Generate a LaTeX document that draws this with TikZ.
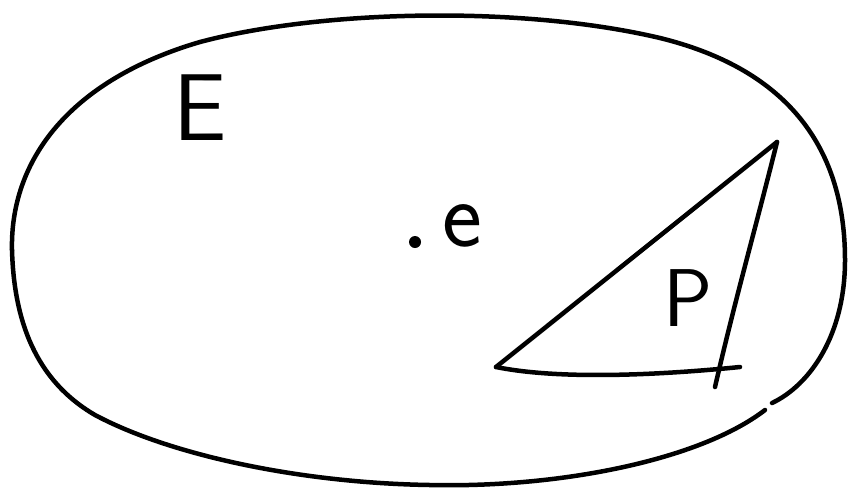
\documentclass[tikz,border=0pt]{standalone}
\usepackage{fontspec}
\begin{document}
\begin{tikzpicture}[x=1pt,y=-1pt,line width=4.5pt,line cap=round,line join=round,
  lbl/.style={inner sep=0pt,font=\sffamily\fontsize{95}{95}\selectfont}]
\useasboundingbox (0,0) rectangle (850,491);
% blob
\draw (12,250) .. controls (10,160) and (70,80) .. (200,42)
  .. controls (320,10) and (520,5) .. (660,38)
  .. controls (790,70) and (845,150) .. (845,260)
  .. controls (845,335) and (810,385) .. (772,403);
\draw (765,410) .. controls (700,460) and (560,488) .. (430,485)
  .. controls (300,483) and (170,455) .. (95,415)
  .. controls (35,380) and (14,320) .. (12,250);
% labels
\node[lbl] (E) at (200,108) {E};
\fill (415,242) circle (6pt) coordinate (dot);
\node[lbl] (e) at (462,226) {e};
\node[lbl,font=\sffamily\fontsize{82}{82}\selectfont] (P) at (688,298) {P};
% triangle
\coordinate (A) at (496,367);
\coordinate (B) at (777,142);
\coordinate (C) at (715,387);
\coordinate (D) at (740,367);
\draw (A) -- (B);
\draw (B) .. controls (755,230) and (735,300) .. (C);
\draw (A) .. controls (560,380) and (660,375) .. (D);
\end{tikzpicture}
\end{document}
